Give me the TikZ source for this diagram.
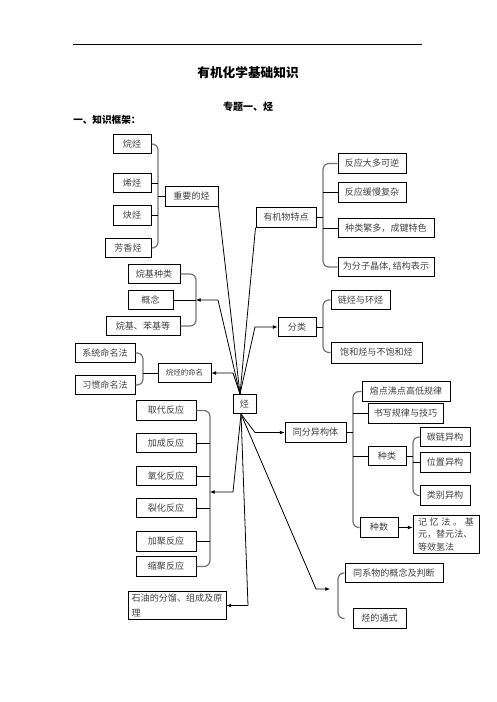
\documentclass[tikz,border=0pt]{standalone}
\usepackage{fontspec}
\newfontfamily\cjk{Noto Sans CJK SC}
\usetikzlibrary{arrows.meta,calc}
\tikzset{
    >={Latex[length=3.5pt,width=3pt]},
    every node/.style={font=\cjk}
}

\begin{document}
\begin{tikzpicture}[x=0.75pt,y=-0.75pt]
  % styles for boxes and braces
  \tikzset{
    box/.style={draw=black, line width=0.75pt, minimum height=14.6pt,
      inner sep=1pt, text=black!75,
      font=\cjk\fontsize{6.8pt}{8.5pt}\selectfont},
    wd/.style={minimum width=#1*0.75pt},
    brk/.style={draw=black!55, line width=0.9pt, rounded corners=4.5pt},
    link/.style={draw=black, line width=0.6pt}
  }
  \useasboundingbox (0,0) rectangle (496,702);

  % header
  \coordinate (rl) at (73,45);
  \coordinate (rr) at (422,45);
  \draw[line width=0.75pt] (rl) -- (rr);
  \node (title) at (248,73) {\bfseries\fontsize{9.5pt}{11pt}\selectfont 有机化学基础知识};
  \node (sub) at (248,107) {\bfseries\fontsize{7.5pt}{9pt}\selectfont 专题一、烃};
  \node[anchor=west, inner sep=0pt] (head) at (73,120) {\bfseries\fontsize{7.2pt}{9pt}\selectfont 一、知识框架：};

  % centre
  \node[box, wd=23] (hc) at (244.5,404) {烃};
  \coordinate (htop) at (240,394);
  \coordinate (hbot) at (241,414);

  % upper left: important hydrocarbons
  \node[box, wd=38] (alkane) at (132,144)   {烷烃};
  \node[box, wd=38] (alkene) at (132,183)   {烯烃};
  \node[box, wd=38] (alkyne) at (132,215.5) {炔烃};
  \node[box, wd=46] (arom)   at (128,248)   {芳香烃};
  \node[box, wd=53] (important) at (191.5,196.5) {重要的烃};

  % upper right: features
  \node[box, wd=60] (feature) at (286,217.5) {有机物特点};
  \node[box, wd=68] (f1) at (372,163.5) {反应大多可逆};
  \node[box, wd=68] (f2) at (372,192.5) {反应缓慢复杂};
  \node[box, wd=96] (f3) at (386,228)   {种类繁多，成键特色};
  \node[box, wd=96] (f4) at (386,267)   {为分子晶体, 结构表示};

  % alkyl
  \node[box, wd=52] (alkylkind) at (154,274) {烷基种类};
  \node[box, wd=45] (concept)   at (150.5,300) {概念};
  \node[box, wd=74] (alkyl)     at (143,326) {烷基、苯基等};

  % naming
  \node[box, wd=60] (sysname) at (105,353) {系统命名法};
  \node[box, wd=60] (comname) at (105,385) {习惯命名法};
  \node[box, wd=53, font=\cjk\fontsize{5.6pt}{7pt}\selectfont] (naming) at (184.5,373) {烷烃的命名};

  % classification
  \node[box, wd=38] (classify) at (297,327) {分类};
  \node[box, wd=59] (chain) at (360.5,300) {链烃与环烃};
  \node[box, wd=91, minimum height=15.75pt] (sat) at (376.5,352.5) {饱和烃与不饱和烃};

  % reactions
  \node[box, wd=60] (r1) at (166,410.5) {取代反应};
  \node[box, wd=60] (r2) at (166,443)   {加成反应};
  \node[box, wd=60] (r3) at (166,476)   {氧化反应};
  \node[box, wd=60] (r4) at (166,508)   {裂化反应};
  \node[box, wd=60] (r5) at (166,541.5) {加聚反应};
  \node[box, wd=60] (r6) at (166,566.5) {缩聚反应};

  % isomers
  \node[box, wd=61] (isomer) at (315.5,432.5) {同分异构体};
  \node[box, wd=88] (i1) at (406,391.5)   {熔点沸点高低规律};
  \node[box, wd=75] (i2) at (405.5,413.5) {书写规律与技巧};
  \node[box, wd=38] (kind) at (387,456)   {种类};
  \node[box, wd=50] (k1) at (445,437)     {碳链异构};
  \node[box, wd=50] (k2) at (445,462.5)   {位置异构};
  \node[box, wd=50] (k3) at (445,495.5)   {类别异构};
  \node[box, wd=38] (count) at (379,527.5) {种数};
  \node[box, text width=42pt, inner xsep=3.75pt, inner ysep=2pt, align=left,
    font=\cjk\fontsize{6.8pt}{9.4pt}\selectfont] (memo) at (446,534.5)
    {\makebox[42pt][s]{记\hfill{}忆\hfill{}法\hfill{}。\hfill{}基}\\元，替元法、\\等效氢法};

  % homologues and petroleum
  \node[box, wd=98] (homolog) at (394,573)   {同系物的概念及判断};
  \node[box, wd=53] (formula) at (379.5,618.5) {烃的通式};
  \node[box, text width=68pt, inner xsep=2.75pt, inner ysep=2pt, align=left,
    font=\cjk\fontsize{6.8pt}{11pt}\selectfont] (oil) at (177,605.5)
    {石油的分馏、组成及原\\理};

  % brace positions
  \coordinate (b1) at (158,0);
  \coordinate (b2) at (323,0);
  \coordinate (b3) at (196,0);
  \coordinate (b4) at (143,0);
  \coordinate (b6) at (210,0);
  \coordinate (b7) at (353,0);
  \coordinate (b8) at (413,0);
  \coordinate (b9) at (338,0);

  % braces
  \draw[brk] (alkane.east) -| (b1 |- arom.east) -- (arom.east);
  \foreach \n in {alkene,alkyne} \draw[link] (\n.east) -- (\n.east -| b1);
  \draw[link] (b1 |- important.west) -- (important.west);

  \draw[brk] (f1.west) -| (b2 |- f4.west) -- (f4.west);
  \foreach \n in {f2,f3} \draw[link] (\n.west) -- (\n.west -| b2);
  \draw[link] (feature.east) -- (feature.east -| b2);

  \draw[brk] (alkylkind.east) -| (b3 |- alkyl.east) -- (alkyl.east);
  \draw[link] (concept.east) -- (concept.east -| b3);

  \draw[brk] (sysname.east) -| (b4 |- comname.east) -- (comname.east);
  \draw[link] (b4 |- naming.west) -- (naming.west);

  \draw[brk] (chain.west) -| (b2 |- sat.west) -- (sat.west);
  \draw[link] (classify.east) -- (classify.east -| b2);

  \draw[brk] (r1.east) -| (b6 |- r6.east) -- (r6.east);
  \foreach \n in {r2,r3,r4,r5} \draw[link] (\n.east) -- (\n.east -| b6);

  \draw[brk] (i1.west) -| (b7 |- count.west) -- (count.west);
  \draw[link] (isomer.east) -- (isomer.east -| b7);
  \foreach \n in {i2,kind} \draw[link] (\n.west) -- (\n.west -| b7);

  \draw[brk] (k1.west) -| (b8 |- k3.west) -- (k3.west);
  \draw[link] (k2.west) -- (k2.west -| b8);
  \draw[link] (kind.east) -- (kind.east -| b8);

  \draw[brk] (homolog.west) -| (b9 |- formula.west) -- (formula.west -| homolog.west);

  % links out of the centre
  \coordinate (kc) at (218,300);
  \coordinate (kn) at (233,373);
  \coordinate (kf) at (255,327);
  \coordinate (ki) at (255,432.5);
  \coordinate (kr) at (233,492);
  \coordinate (ko) at (248,605.5);
  \coordinate (kh) at (316,589);
  \coordinate (kh2) at (330,589);

  \draw[link] (htop) -- (important.south east);
  \draw[link] (htop) -- (feature.south west);
  \draw[link,->] (htop) -- (kc) -- (concept.east -| b3);
  \draw[link,->] (htop) -- (kn) -- (naming.east);
  \draw[link,->] (htop) -- (kf) -- (classify.west);
  \draw[link,->] (hbot) -- (ki) -- (isomer.west);
  \draw[link,->] (hbot) -- (kr) -- (kr -| b6);
  \draw[link,->] (hbot) -- (ko) -- (oil.east);
  \draw[link,->] (hbot) -- (kh) -- (kh2);
  \draw[link,->] (count.east) -- (count.east -| memo.west);
\end{tikzpicture}
\end{document}
